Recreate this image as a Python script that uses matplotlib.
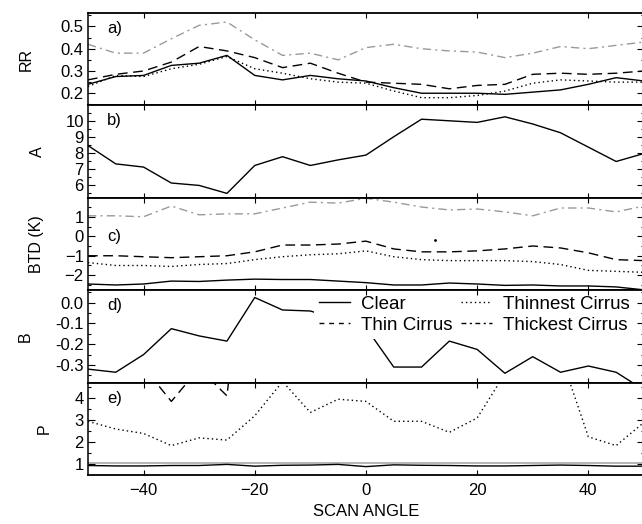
import matplotlib
matplotlib.use('Agg')
import matplotlib.pyplot as plt
from matplotlib.ticker import MultipleLocator

plt.rcParams['font.family'] = ['Liberation Sans', 'DejaVu Sans']
plt.rcParams['font.size'] = 12
plt.rcParams['lines.linewidth'] = 1.0

angle = [-50, -45, -40, -35, -30, -25, -20, -15, -10, -5, 0,
         5, 10, 15, 20, 25, 30, 35, 40, 45, 50]

# a) RR
rr_clear = [0.24, 0.275, 0.28, 0.325, 0.335, 0.37, 0.28, 0.26, 0.28, 0.265, 0.255,
            0.225, 0.2, 0.2, 0.2, 0.195, 0.205, 0.215, 0.24, 0.27, 0.255]
rr_thinnest = [0.23, 0.28, 0.275, 0.31, 0.33, 0.365, 0.31, 0.29, 0.265, 0.25, 0.245,
               0.21, 0.18, 0.18, 0.19, 0.21, 0.245, 0.26, 0.255, 0.25, 0.25]
rr_thin = [0.26, 0.285, 0.30, 0.34, 0.41, 0.39, 0.36, 0.315, 0.335, 0.29, 0.25,
           0.245, 0.24, 0.22, 0.235, 0.24, 0.285, 0.29, 0.285, 0.29, 0.30]
rr_thickest = [0.42, 0.38, 0.38, 0.445, 0.505, 0.52, 0.44, 0.37, 0.38, 0.35, 0.405,
               0.42, 0.40, 0.39, 0.385, 0.36, 0.38, 0.41, 0.40, 0.415, 0.43]

# b) A
a_clear = [8.45, 7.3, 7.1, 6.1, 5.95, 5.45, 7.2, 7.75, 7.2, 7.55, 7.85,
           9.0, 10.1, 10.0, 9.9, 10.25, 9.8, 9.25, 8.35, 7.45, 7.95]

# c) BTD (K)
btd_clear = [-2.45, -2.5, -2.45, -2.3, -2.32, -2.25, -2.2, -2.22, -2.22, -2.3, -2.38,
             -2.5, -2.5, -2.4, -2.45, -2.52, -2.5, -2.55, -2.55, -2.6, -2.75]
btd_thinnest = [-1.35, -1.5, -1.5, -1.55, -1.45, -1.4, -1.2, -1.05, -0.95, -0.9, -0.75,
                -1.05, -1.2, -1.25, -1.25, -1.25, -1.3, -1.45, -1.75, -1.8, -1.85]
btd_thin = [-1.0, -1.0, -1.05, -1.1, -1.05, -1.0, -0.8, -0.45, -0.45, -0.4, -0.25,
            -0.65, -0.8, -0.8, -0.75, -0.65, -0.5, -0.6, -0.85, -1.2, -1.25]
btd_thickest = [1.05, 1.05, 1.0, 1.55, 1.1, 1.15, 1.15, 1.45, 1.75, 1.7, 1.95,
                1.75, 1.5, 1.35, 1.4, 1.25, 1.05, 1.45, 1.45, 1.25, 1.55]
btd_stray = (12.5, -0.2)

# d) B
b_clear = [-0.32, -0.335, -0.25, -0.125, -0.16, -0.185, 0.025, -0.035, -0.04, -0.08, -0.12,
           -0.31, -0.31, -0.185, -0.225, -0.34, -0.26, -0.335, -0.305, -0.335, -0.42]

# e) P
p_clear = [0.95, 0.93, 0.93, 0.95, 0.95, 1.0, 0.92, 0.96, 0.97, 1.0, 0.9,
           0.98, 0.96, 0.95, 0.93, 0.93, 0.95, 0.97, 0.95, 0.92, 0.92]
p_thinnest = [2.95, 2.6, 2.4, 1.85, 2.2, 2.1, 3.2, 4.75, 3.35, 3.95, 3.85,
              2.95, 2.95, 2.45, 3.1, 5.1, 6.5, 5.95, 2.25, 1.85, 2.9]
p_thin = [9.0, 7.5, 5.4, 3.85, 5.35, 4.1, 15.0, 14.0, 12.0, 10.0, 11.0,
          13.0, 12.0, 10.0, 9.0, 11.0, 12.0, 10.0, 9.0, 8.0, 8.5]
p_thickest = [1.05, 1.05, 1.05, 1.05, 1.05, 1.05, 1.05, 1.05, 1.05, 1.05, 1.05,
              1.05, 1.05, 1.05, 1.05, 1.05, 1.05, 1.05, 1.05, 1.05, 1.05]

gray = '#9a9a9a'
dashed = (0, (7, 4))
dotted = (0, (1, 2.2))
dashdot = (0, (6, 3, 1.5, 3))

fig, axes = plt.subplots(5, 1, sharex=True, figsize=(6.42, 5.24), dpi=100)
fig.subplots_adjust(left=0.137, right=1.003, top=0.975, bottom=0.0935, hspace=0)
ax_a, ax_b, ax_c, ax_d, ax_e = axes

ax_a.plot(angle, rr_clear, color='k', ls='-')
ax_a.plot(angle, rr_thinnest, color='k', ls=dotted)
ax_a.plot(angle, rr_thin, color='k', ls=dashed)
ax_a.plot(angle, rr_thickest, color=gray, ls=dashdot)

ax_b.plot(angle, a_clear, color='k', ls='-')

ax_c.plot(angle, btd_clear, color='k', ls='-')
ax_c.plot(angle, btd_thinnest, color='k', ls=dotted)
ax_c.plot(angle, btd_thin, color='k', ls=dashed)
ax_c.plot(angle, btd_thickest, color=gray, ls=dashdot)
ax_c.plot(btd_stray[0], btd_stray[1], 'k.', ms=2)

ax_d.plot(angle, b_clear, color='k', ls='-')

ax_e.plot(angle, p_thickest, color='#b4b4b4', ls='-', lw=1.4)
ax_e.plot(angle, p_clear, color='k', ls='-')
ax_e.plot(angle, p_thinnest, color='k', ls=dotted)
ax_e.plot(angle, p_thin, color='k', ls=dashed)

# legend lives in panel d, handles all black
h1, = ax_d.plot([], [], color='k', ls='-', label='Clear')
h2, = ax_d.plot([], [], color='k', ls=(0, (3.5, 3.5)), label='Thin Cirrus')
h3, = ax_d.plot([], [], color='k', ls=(0, (1, 2.2)), label='Thinnest Cirrus')
h4, = ax_d.plot([], [], color='k', ls=(0, (3.5, 2.5, 1.5, 2.5)), label='Thickest Cirrus')
leg = ax_d.legend(handles=[h1, h2, h3, h4], ncol=2, loc='upper right',
                  bbox_to_anchor=(0.985, 1.0), borderaxespad=0.05, borderpad=0.25,
                  fontsize=13.5, handlelength=1.65, handletextpad=0.6,
                  columnspacing=0.45, labelspacing=0.2, frameon=True, fancybox=False)
leg.get_frame().set_edgecolor('none')
leg.get_frame().set_facecolor('white')
leg.get_frame().set_alpha(1)
leg.set_zorder(2.2)

ylims = [(0.145, 0.56), (5.17, 10.96), (-2.77, 1.97), (-0.385, 0.06), (0.52, 4.7)]
majors = [0.1, 1, 1, 0.1, 1]
minors = [0.05, 0.5, 0.5, 0.05, 0.5]
ylabels = ['RR', 'A', 'BTD (K)', 'B', 'P']
label_x = [-0.097, -0.077, -0.079, -0.099, -0.065]
tags = ['a)', 'b)', 'c)', 'd)', 'e)']
tag_y = [0.913, 0.92, 0.66, 0.913, 0.91]

for i, ax in enumerate(axes):
    ax.set_xlim(-50, 50)
    ax.set_ylim(*ylims[i])
    ax.set_axisbelow(False)
    ax.xaxis.set_major_locator(MultipleLocator(20))
    ax.yaxis.set_major_locator(MultipleLocator(majors[i]))
    ax.yaxis.set_minor_locator(MultipleLocator(minors[i]))
    ax.tick_params(axis='both', which='both', direction='in', top=True, right=True,
                   width=0.8, labelsize=12, pad=3)
    ax.tick_params(axis='y', which='major', length=5)
    ax.tick_params(axis='y', which='minor', length=2.5)
    ax.tick_params(axis='x', which='major', length=3.5, pad=6)
    for side in ['top', 'bottom']:
        ax.spines[side].set_linewidth(1.3)
    for side in ['left', 'right']:
        ax.spines[side].set_linewidth(1.1)
    ax.set_ylabel(ylabels[i], fontsize=11.5)
    ax.yaxis.set_label_coords(label_x[i], 0.5)
    ax.text(0.034, tag_y[i], tags[i], transform=ax.transAxes, va='top', ha='left', fontsize=12)

ax_a.yaxis.set_major_formatter(matplotlib.ticker.FormatStrFormatter('%.1f'))
ax_d.yaxis.set_major_formatter(matplotlib.ticker.FormatStrFormatter('%.1f'))

ax_e.set_xlabel('SCAN ANGLE', fontsize=12, labelpad=4)

fig.savefig('out.png', dpi=100)
